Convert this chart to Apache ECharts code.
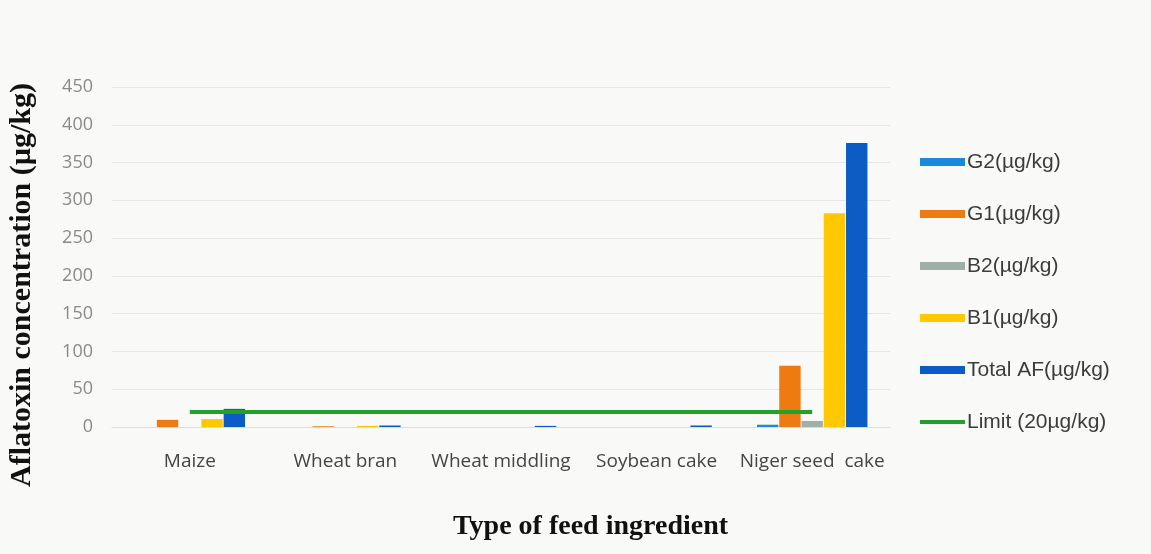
<!DOCTYPE html>
<html>
<head>
<meta charset="utf-8">
<script src="https://cdn.jsdelivr.net/npm/echarts@6/dist/echarts.min.js"></script>
<style>
  html, body { margin: 0; padding: 0; background: #f9f9f7; }
  #chart { width: 1151px; height: 554px; }
</style>
</head>
<body>
<div id="chart"></div>
<script>
// Feed ingredients on the x axis
const categories = ['Maize', 'Wheat bran', 'Wheat middling', 'Soybean cake', 'Niger seed  cake'];

// Aflatoxin levels per ingredient (µg/kg)
const g2Values    = [0,    0,   0,   0,   3];
const g1Values    = [9.5,  1,   0,   0,   81];
const b2Values    = [0,    0,   0,   0,   8];
const b1Values    = [10.5, 1.5, 0,   0,   283];
const totalValues = [24,   2,   1.5, 2,   376];
const limitValues = [20,   20,  20,  20,  20];

// Value axis range
const yMin = 0;
const yMax = 450;
const yStep = 50;

const seriesNames = ['G2(µg/kg)', 'G1(µg/kg)', 'B2(µg/kg)', 'B1(µg/kg)', 'Total AF(µg/kg)', 'Limit (20µg/kg)'];
const colors = ['#1a8ad6', '#ef7a12', '#9fb0ab', '#ffc800', '#0b5cc4', '#23a02c'];

const chart = echarts.init(document.getElementById('chart'));

function barSeries(i, values) {
  return {
    name: seriesNames[i],
    type: 'bar',
    data: values,
    barGap: '4%',
    barCategoryGap: '29%',
    itemStyle: { color: colors[i] },
    emphasis: { disabled: true }
  };
}

chart.setOption({
  backgroundColor: '#f9f9f7',
  animation: false,
  grid: { left: 112, right: 261, top: 87, bottom: 127, containLabel: false },
  legend: {
    orient: 'vertical',
    left: 920,
    top: 151,
    padding: 0,
    itemWidth: 45,
    itemHeight: 8,
    itemGap: 30,
    data: [
      { name: seriesNames[0], icon: 'rect' },
      { name: seriesNames[1], icon: 'rect' },
      { name: seriesNames[2], icon: 'rect' },
      { name: seriesNames[3], icon: 'rect' },
      { name: seriesNames[4], icon: 'rect' },
      { name: seriesNames[5], icon: 'path://M0,0 L45,0 L45,4 L0,4 Z' }
    ],
    textStyle: {
      fontFamily: 'Liberation Sans, Arial, sans-serif',
      fontSize: 21,
      lineHeight: 22,
      color: '#3c3c3c',
      padding: [0, 0, 0, -3]
    }
  },
  xAxis: {
    type: 'category',
    data: categories,
    axisLine: { show: true, lineStyle: { color: '#dcdcdc', width: 1 } },
    axisTick: { show: false },
    axisLabel: {
      margin: 25,
      fontFamily: 'Open Sans, sans-serif',
      fontSize: 19,
      color: '#454545',
      interval: 0
    }
  },
  yAxis: {
    type: 'value',
    min: yMin,
    max: yMax,
    interval: yStep,
    axisLine: { show: false },
    axisTick: { show: false },
    splitLine: { lineStyle: { color: '#e6e6e6', width: 1 } },
    axisLabel: {
      margin: 19,
      fontFamily: 'Open Sans, sans-serif',
      fontSize: 18,
      color: '#8a8a8a'
    }
  },
  series: [
    barSeries(0, g2Values),
    barSeries(1, g1Values),
    barSeries(2, b2Values),
    barSeries(3, b1Values),
    barSeries(4, totalValues),
    {
      name: seriesNames[5],
      type: 'line',
      data: limitValues,
      symbol: 'none',
      lineStyle: { color: colors[5], width: 4 },
      itemStyle: { color: colors[5] },
      emphasis: { disabled: true },
      z: 5
    }
  ],
  graphic: [
    {
      type: 'text',
      left: 453,
      top: 513,
      style: {
        text: 'Type of feed ingredient',
        font: 'bold 28px "Liberation Serif", "Times New Roman", serif',
        fill: '#111111'
      }
    },
    {
      type: 'text',
      x: 7,
      y: 285,
      rotation: Math.PI / 2,
      style: {
        text: 'Aflatoxin concentration (µg/kg)',
        font: 'bold 30px "Liberation Serif", "Times New Roman", serif',
        fill: '#111111',
        align: 'center',
        verticalAlign: 'top'
      }
    }
  ]
});
</script>
</body>
</html>
